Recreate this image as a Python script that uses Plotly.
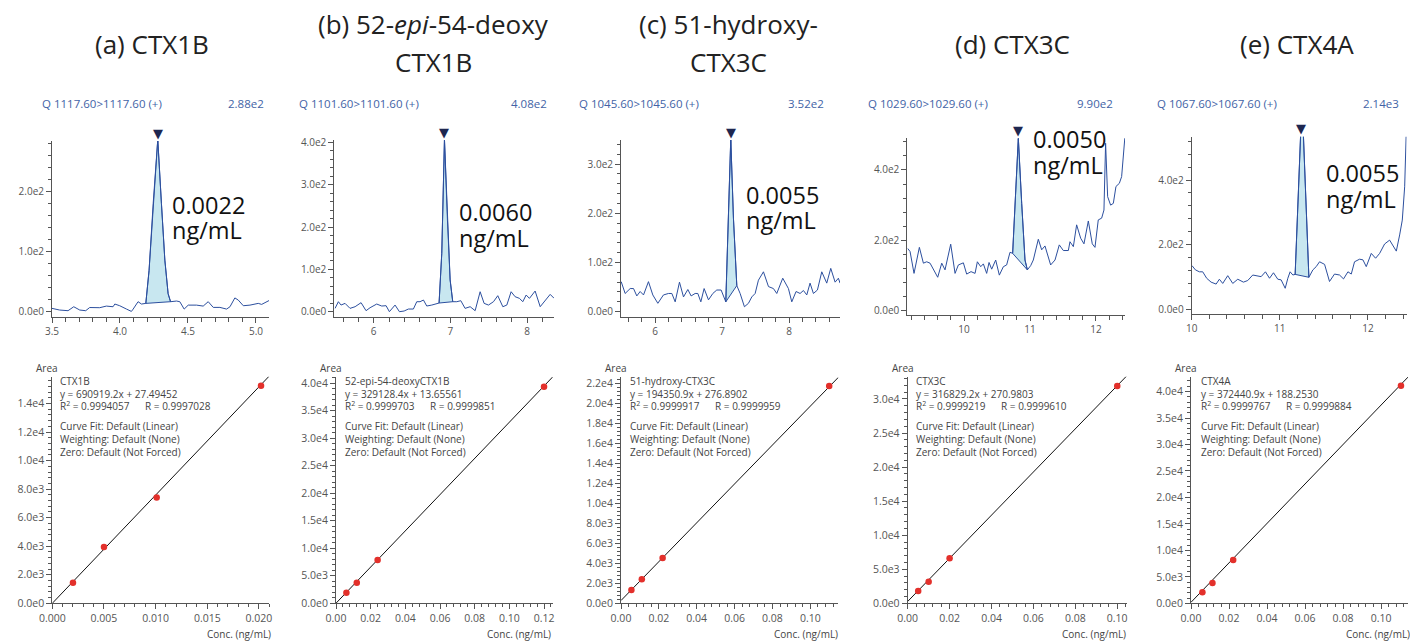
import math
import plotly.graph_objects as go

W, H = 1410, 641

# ---------------- data ----------------
title_line1 = ["(a) CTX1B", "(b) 52-<i>epi</i>-54-deoxy", "(c) 51-hydroxy-", "(d) CTX3C", "(e) CTX4A"]
title_line2 = ["", "CTX1B", "CTX3C", "", ""]
headers = ["Q 1117.60>1117.60 (+)", "Q 1101.60>1101.60 (+)", "Q 1045.60>1045.60 (+)",
           "Q 1029.60>1029.60 (+)", "Q 1067.60>1067.60 (+)"]
header_max = ["2.88e2", "4.08e2", "3.52e2", "9.90e2", "2.14e3"]
loq_text = ["0.0022", "0.0060", "0.0055", "0.0050", "0.0055"]

a_t = [3.500, 3.556, 3.618, 3.660, 3.704, 3.748, 3.777, 3.827, 3.851, 3.900, 3.949, 3.962, 3.998, 4.048, 4.084,
       4.097, 4.133, 4.158, 4.190, 4.214, 4.244, 4.278, 4.305, 4.330, 4.354, 4.372, 4.416, 4.440, 4.472, 4.502,
       4.563, 4.612, 4.649, 4.686, 4.735, 4.784, 4.809, 4.845, 4.870, 4.907, 4.956, 5.017, 5.042, 5.103]
a_i = [5.6, 2.8, 1.7, 8.3, 2.8, 1.7, 7.0, 7.0, 6.7, 9.4, 8.3, 12.8, 10.0, 4.4, 0.5,
       4.4, 16.7, 12.8, 13.9, 69, 180, 287, 180, 86, 30, 16.7, 17.8, 16.7, 4.4, 11,
       11, 9.4, 16.7, 7.2, 7.2, 4.4, 8.3, 23, 19.4, 10, 11, 13.9, 12.2, 19.4]

b_t = [5.496, 5.539, 5.574, 5.626, 5.691, 5.757, 5.835, 5.900, 5.952, 6.039, 6.104, 6.161, 6.204, 6.278, 6.335,
       6.396, 6.452, 6.517, 6.561, 6.604, 6.648, 6.691, 6.757, 6.822, 6.852, 6.887, 6.922, 6.961, 6.996, 7.030,
       7.083, 7.135, 7.191, 7.257, 7.322, 7.387, 7.439, 7.496, 7.561, 7.617, 7.683, 7.735, 7.791, 7.843, 7.900,
       7.943, 7.987, 8.030, 8.104, 8.170, 8.222, 8.300, 8.352]
b_i = [7.9, 23.6, 15.7, 19.7, 7.9, 11.8, 21.3, 2.4, 9.4, 18.1, 13.4, 14.2, 0, 15.7, 0,
       1.6, 6.3, 6.3, 23.6, 23.6, 27.6, 13.4, 15.7, 19.7, 20.5, 138, 407, 216, 75, 23.6,
       23.6, 26, 7.9, 11.8, 2.4, 47.2, 19.7, 15.7, 23.6, 37.8, 11.8, 15.7, 47.2, 35.4, 31.5,
       23.6, 39.4, 31.5, 48.8, 11.8, 23.6, 40.9, 31.5]

c_t = [5.493, 5.552, 5.627, 5.677, 5.726, 5.776, 5.826, 5.900, 5.965, 6.040, 6.124, 6.199, 6.249, 6.299, 6.363,
       6.423, 6.488, 6.537, 6.597, 6.637, 6.682, 6.731, 6.796, 6.861, 6.920, 6.985, 7.055, 7.085, 7.129, 7.169,
       7.209, 7.219, 7.269, 7.333, 7.393, 7.443, 7.493, 7.542, 7.617, 7.692, 7.766, 7.816, 7.905, 7.990, 8.040,
       8.104, 8.164, 8.214, 8.264, 8.313, 8.363, 8.423, 8.488, 8.562, 8.622, 8.687, 8.736, 8.761]
c_i = [61, 37, 47, 47, 32, 41, 34, 61, 34, 17, 34, 37, 37, 20, 60,
       30, 45, 32, 37, 37, 20, 47, 24, 37, 44, 44, 20, 170, 352, 190,
       60, 53, 37, 10, 17, 30, 37, 64, 81, 51, 47, 37, 68, 47, 20,
       41, 37, 43, 34, 58, 37, 44, 81, 58, 88, 60, 68, 58]

d_t = [9.146, 9.182, 9.242, 9.323, 9.384, 9.434, 9.485, 9.535, 9.601, 9.662, 9.712, 9.798, 9.864, 9.914, 9.990,
       10.040, 10.106, 10.167, 10.202, 10.253, 10.293, 10.343, 10.379, 10.419, 10.480, 10.535, 10.596, 10.646,
       10.697, 10.737, 10.773, 10.823, 10.874, 10.924, 10.960, 11.010, 11.050, 11.126, 11.177, 11.227, 11.313,
       11.379, 11.444, 11.505, 11.581, 11.606, 11.657, 11.707, 11.768, 11.818, 11.884, 11.944, 11.985, 12.035,
       12.086, 12.121, 12.146, 12.177, 12.222, 12.263, 12.303, 12.354, 12.389, 12.414, 12.439]
d_i = [177, 168, 106, 180, 135, 139, 135, 116, 95, 135, 116, 189, 106, 130, 136,
       104, 111, 106, 139, 125, 133, 106, 137, 118, 144, 101, 125, 130,
       166, 163, 305, 490, 305, 144, 116, 128, 144, 203, 173, 184, 130,
       144, 187, 171, 171, 196, 182, 244, 206, 190, 255, 190, 180, 258,
       263, 286, 476, 324, 300, 305, 353, 362, 381, 447, 495]

e_t = [10.004, 10.042, 10.087, 10.125, 10.170, 10.220, 10.277, 10.314, 10.352, 10.409, 10.466, 10.523, 10.587,
       10.636, 10.693, 10.750, 10.788, 10.837, 10.883, 10.928, 10.977, 11.015, 11.061, 11.091, 11.117, 11.148,
       11.174, 11.252, 11.330, 11.375, 11.413, 11.451, 11.508, 11.564, 11.621, 11.678, 11.723, 11.773, 11.811,
       11.848, 11.905, 11.943, 11.981, 12.038, 12.087, 12.133, 12.189, 12.246, 12.284, 12.322, 12.360, 12.390,
       12.417, 12.436]
e_i = [135, 122, 116, 116, 96, 84, 78, 93, 80, 104, 80, 93, 84,
       89, 106, 104, 101, 116, 96, 113, 93, 91, 65, 96, 116, 106,
       108, 650, 99, 122, 132, 147, 139, 86, 109, 106, 94, 116, 109,
       147, 155, 153, 132, 173, 158, 173, 202, 214, 199, 180, 230, 276,
       379, 560]

chrom_t = [a_t, b_t, c_t, d_t, e_t]
chrom_i = [a_i, b_i, c_i, d_i, e_i]
peak_start = [4.190, 6.852, 7.055, 10.737, 11.174]
peak_end = [4.372, 7.030, 7.219, 10.960, 11.330]
peak_apex = [4.278, 6.922, 7.129, 10.823, 11.245]

cal_names = ["CTX1B", "52-epi-54-deoxyCTX1B", "51-hydroxy-CTX3C", "CTX3C", "CTX4A"]
cal_eq = ["y = 690919.2x + 27.49452", "y = 329128.4x + 13.65561", "y = 194350.9x + 276.8902",
          "y = 316829.2x + 270.9803", "y = 372440.9x + 188.2530"]
cal_r2 = ["0.9994057", "0.9999703", "0.9999917", "0.9999219", "0.9999767"]
cal_r = ["0.9997028", "0.9999851", "0.9999959", "0.9999610", "0.9999884"]
cal_x = [[0.0020, 0.0050, 0.0101, 0.0202],
         [0.006, 0.012, 0.024, 0.120],
         [0.0055, 0.011, 0.022, 0.110],
         [0.005, 0.010, 0.020, 0.100],
         [0.0060, 0.0113, 0.0222, 0.1105]]
cal_y = [[1435, 3953, 7412, 15247],
         [1939, 3758, 7879, 39394],
         [1333, 2400, 4533, 21733],
         [1811, 3181, 6607, 31912],
         [2079, 3843, 8189, 41071]]
fit_x = [[0, 0.0210], [0, 0.125], [0, 0.1148], [0, 0.1048], [0, 0.1142]]
fit_y = [[0, 15930], [14, 41155], [277, 22588], [271, 33475], [188, 42721]]

# ---------------- layout geometry (pixels) ----------------
chrom_dom_x = [(52, 269), (334.3, 554), (621, 840), (907.3, 1125), (1191.7, 1406.7)]
chrom_dom_y = [(141, 316.7), (140, 316.7), (140, 316.7), (138.3, 315), (136.7, 314.3)]
chrom_xr = [(3.5, 5.096), (5.486, 8.35), (5.49, 8.76), (9.14, 12.44), (10.0, 12.44)]
chrom_yr = [(-8.3, 284.5), (-11.8, 405.5), (-10.2, 348.8), (-12.3, 490), (-15.5, 534)]
chrom_xdt = [0.5, 1, 1, 1, 1]
chrom_xminor = [0.1, 0.2, 0.2, 0.2, 0.2]
chrom_ydt = [100, 100, 100, 200, 200]
chrom_yminor = [20, 20, 20, 40, 40]
chrom_xfmt = [".1f", "d", "d", "d", "d"]

cal_dom_x = [(52.3, 269.3), (336, 552.7), (621, 838.3), (907.7, 1127.3), (1191, 1408)]
cal_dom_y = (376.7, 603.3)
cal_xr = [(0, 0.0210), (0, 0.125), (0, 0.1148), (0, 0.1048), (0, 0.1142)]
cal_yr = [(0, 15880), (0, 41200), (0, 22660), (0, 33270), (0, 42800)]
cal_xdt = [0.005, 0.02, 0.02, 0.02, 0.02]
cal_xminor = [0.001, 0.004, 0.004, 0.004, 0.004]
cal_ydt = [2000, 5000, 2000, 5000, 5000]
cal_yminor = [400, 1000, 400, 1000, 1000]
cal_xfmt = [".3f", ".2f", ".2f", ".2f", ".2f"]

title_cx = [152, 433, 728, 1012, 1297]
title_y1 = [44, 24, 24, 44, 44]
title_y2 = 62
header_x = [40, 297, 577, 866, 1155]
header_rx = [266, 549, 826, 1115, 1401]
loq_x = [170, 456.7, 744.3, 1030.7, 1324]
loq_y1 = [205, 211.7, 195, 139, 173.3]
loq_y2 = [230, 238.3, 220, 165, 199]
info_x = [58.3, 342.7, 627.7, 914, 1198.7]
conc_rx = [273, 553, 840, 1128, 1412]


def px(x):
    return x / W


def py(y):
    return 1 - y / H


def sci(v):
    if v == 0:
        return "0.0e0"
    e = int(math.floor(math.log10(abs(v)) + 1e-9))
    m = v / 10 ** e
    return f"{m:.1f}e{e}"


def tick_list(lo, hi, step):
    vals = []
    k = math.ceil(lo / step - 1e-9)
    while k * step <= hi + 1e-12:
        vals.append(round(k * step, 10))
        k += 1
    return vals


AX = "#555555"
FONT = "Open Sans"
TRACE = "#2c4f9e"
FILL = "#c8e7f0"

fig = go.Figure()
layout = dict(template="none", width=W, height=H, margin=dict(l=0, r=0, t=0, b=0, pad=0),
              paper_bgcolor="white", plot_bgcolor="white", showlegend=False,
              font=dict(family=FONT, color="#333"))
annotations = []


def axis_common():
    return dict(showline=True, linecolor=AX, linewidth=1, ticks="outside", ticklen=5, tickcolor=AX,
                tickwidth=1, showgrid=False, zeroline=False, automargin=False, mirror=False,
                tickfont=dict(family=FONT, size=10, color="#555"))


for p in range(5):
    ci = 2 * p + 1
    cc = 2 * p + 2
    # ---- chromatogram ----
    xa = axis_common()
    xa.update(domain=[px(chrom_dom_x[p][0]), px(chrom_dom_x[p][1])], range=list(chrom_xr[p]),
              anchor=f"y{ci}", dtick=chrom_xdt[p], tick0=0, tickformat=chrom_xfmt[p],
              minor=dict(dtick=chrom_xminor[p], tick0=0, ticks="outside", ticklen=4, tickcolor=AX))
    ya = axis_common()
    yt = tick_list(0, chrom_yr[p][1], chrom_ydt[p])
    ya.update(domain=[py(chrom_dom_y[p][1]), py(chrom_dom_y[p][0])], range=list(chrom_yr[p]),
              anchor=f"x{ci}", tickvals=yt, ticktext=[sci(v) for v in yt],
              minor=dict(dtick=chrom_yminor[p], tick0=0, ticks="outside", ticklen=3, tickcolor=AX))
    layout[f"xaxis{ci}"] = xa
    layout[f"yaxis{ci}"] = ya

    t = chrom_t[p]
    inten = chrom_i[p]
    sel = [(tt, ii) for tt, ii in zip(t, inten) if peak_start[p] - 1e-9 <= tt <= peak_end[p] + 1e-9]
    poly_x = [s[0] for s in sel] + [sel[0][0]]
    poly_y = [s[1] for s in sel] + [sel[0][1]]
    fig.add_trace(go.Scatter(x=poly_x, y=poly_y, mode="lines", fill="toself", fillcolor=FILL,
                             line=dict(color=TRACE, width=1), xaxis=f"x{ci}", yaxis=f"y{ci}",
                             hoverinfo="skip"))
    fig.add_trace(go.Scatter(x=t, y=inten, mode="lines", line=dict(color=TRACE, width=1),
                             xaxis=f"x{ci}", yaxis=f"y{ci}"))
    # peak-top marker (triangle) just above the axis top
    annotations.append(dict(x=peak_apex[p], xref=f"x{ci}", y=py(chrom_dom_y[p][0] - 8), yref="paper",
                            text="▼", showarrow=False, xanchor="center", yanchor="middle",
                            font=dict(family="DejaVu Sans", size=13, color="#1e2750")))

    # ---- calibration ----
    xa = axis_common()
    xa.update(domain=[px(cal_dom_x[p][0]), px(cal_dom_x[p][1])], range=list(cal_xr[p]),
              anchor=f"y{cc}", dtick=cal_xdt[p], tick0=0, tickformat=cal_xfmt[p],
              tickfont=dict(family=FONT, size=10.5, color="#555"),
              minor=dict(dtick=cal_xminor[p], tick0=0, ticks="outside", ticklen=3, tickcolor=AX))
    ya = axis_common()
    yt = tick_list(0, cal_yr[p][1], cal_ydt[p])
    ya.update(domain=[py(cal_dom_y[1]), py(cal_dom_y[0])], range=list(cal_yr[p]),
              anchor=f"x{cc}", tickvals=yt, ticktext=[sci(v) for v in yt],
              tickfont=dict(family=FONT, size=10.5, color="#555"),
              minor=dict(dtick=cal_yminor[p], tick0=0, ticks="outside", ticklen=3, tickcolor=AX))
    layout[f"xaxis{cc}"] = xa
    layout[f"yaxis{cc}"] = ya
    fig.add_trace(go.Scatter(x=fit_x[p], y=fit_y[p], mode="lines", line=dict(color="#111", width=1),
                             xaxis=f"x{cc}", yaxis=f"y{cc}"))
    fig.add_trace(go.Scatter(x=cal_x[p], y=cal_y[p], mode="markers", cliponaxis=False,
                             marker=dict(color="#e3302b", size=6.5, line=dict(width=0)),
                             xaxis=f"x{cc}", yaxis=f"y{cc}"))

    # ---- texts ----
    annotations.append(dict(x=px(title_cx[p]), y=py(title_y1[p]), xref="paper", yref="paper",
                            text=title_line1[p], showarrow=False, xanchor="center", yanchor="middle",
                            font=dict(family=FONT, size=26, color="#222")))
    if title_line2[p]:
        annotations.append(dict(x=px(title_cx[p]), y=py(title_y2), xref="paper", yref="paper",
                                text=title_line2[p], showarrow=False, xanchor="center", yanchor="middle",
                                font=dict(family=FONT, size=26, color="#222")))
    annotations.append(dict(x=px(header_x[p]), y=py(104), xref="paper", yref="paper", text=headers[p],
                            showarrow=False, xanchor="left", yanchor="middle",
                            font=dict(family=FONT, size=11.5, color="#4263a6")))
    annotations.append(dict(x=px(header_rx[p]), y=py(104), xref="paper", yref="paper", text=header_max[p],
                            showarrow=False, xanchor="right", yanchor="middle",
                            font=dict(family=FONT, size=11.5, color="#4263a6")))
    annotations.append(dict(x=px(loq_x[p]), y=py(loq_y1[p]), xref="paper", yref="paper", text=loq_text[p],
                            showarrow=False, xanchor="left", yanchor="middle",
                            font=dict(family=FONT, size=23.5, color="#111")))
    annotations.append(dict(x=px(loq_x[p]), y=py(loq_y2[p]), xref="paper", yref="paper", text="ng/mL",
                            showarrow=False, xanchor="left", yanchor="middle",
                            font=dict(family=FONT, size=23.5, color="#111")))
    info_lines = [cal_names[p], cal_eq[p],
                  f"R<sup>2</sup> = {cal_r2[p]}&nbsp;&nbsp;&nbsp;&nbsp;&nbsp;&nbsp;R = {cal_r[p]}",
                  "Curve Fit: Default (Linear)", "Weighting: Default (None)", "Zero: Default (Not Forced)"]
    info_y = [381, 393.5, 406, 426, 438.5, 451.5]
    for txt, yy in zip(info_lines, info_y):
        annotations.append(dict(x=px(info_x[p]), y=py(yy), xref="paper", yref="paper", text=txt,
                                showarrow=False, xanchor="left", yanchor="middle",
                                font=dict(family=FONT, size=10, color="#444")))
    annotations.append(dict(x=px(cal_dom_x[p][0] - 5), y=py(368), xref="paper", yref="paper", text="Area",
                            showarrow=False, xanchor="center", yanchor="middle",
                            font=dict(family=FONT, size=10, color="#444")))
    annotations.append(dict(x=px(conc_rx[p]), y=py(634), xref="paper", yref="paper", text="Conc. (ng/mL)",
                            showarrow=False, xanchor="right", yanchor="middle",
                            font=dict(family=FONT, size=10, color="#444")))

layout["annotations"] = annotations
fig.update_layout(**layout)
fig.write_html("out.html", config={"displayModeBar": False},
               post_script="document.body.style.margin='0';document.body.style.overflow='hidden';")
